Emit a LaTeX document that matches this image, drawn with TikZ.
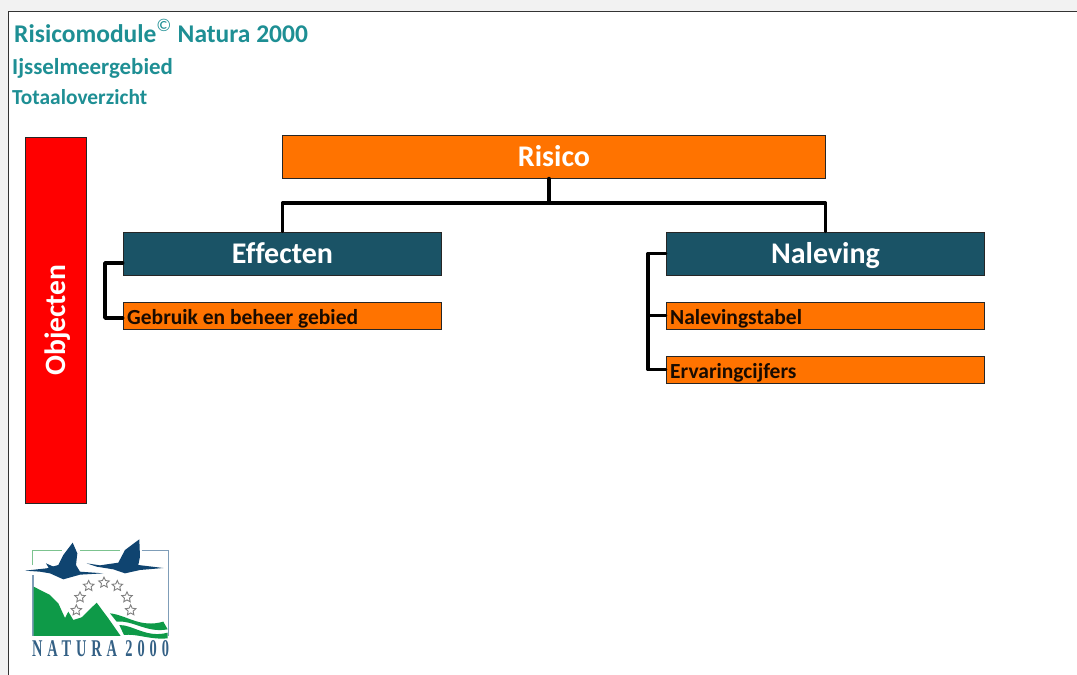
\documentclass[tikz,border=0pt]{standalone}
\usepackage{fontspec}
\setmainfont{Carlito}
\newfontfamily\logofont{Liberation Serif}
\usetikzlibrary{shapes.geometric}
\definecolor{teal1}{HTML}{1E8F94}
\definecolor{orangebox}{HTML}{FF7300}
\definecolor{bluebox}{HTML}{1A5366}
\definecolor{navy}{HTML}{0F4470}
\definecolor{leaf}{HTML}{0E9A48}
\definecolor{framegreen}{HTML}{7CC38F}
\definecolor{frameblue}{HTML}{7F9DB8}
\tikzset{
  x=1pt,y=-1pt,
  boxbase/.style={draw=black!85,line width=1pt,inner sep=0pt,minimum width=318.5pt,font=\bfseries},
  headbox/.style={boxbase,fill=bluebox,text=white,minimum height=43pt,text height=22pt,text depth=3pt,font=\bfseries\fontsize{30}{32}\selectfont},
  subbox/.style={boxbase,fill=orangebox,minimum height=27pt},
  sublabel/.style={anchor=base west,inner sep=0pt,font=\bfseries\fontsize{21.5}{24}\selectfont,text=black!90!orangebox},
  titletext/.style={anchor=base west,inner sep=0pt,text=teal1},
  link/.style={line width=3.4pt,line join=round,line cap=round,draw=black},
  staricon/.style={star,star points=5,star point ratio=2.1,draw=black!50,fill=white,line width=0.9pt,minimum size=11pt,inner sep=0pt},
}
\begin{document}
\begin{tikzpicture}
\useasboundingbox (0,0) rectangle (1077,675);
\fill[black!5] (0,0) rectangle (1077,675);
\fill[white] (8,11) rectangle (1077,675);
\draw[black!80,line width=1pt] (8,675) -- (8,11) -- (1077,11);

\node[titletext,font=\bfseries\fontsize{25.5}{27}\selectfont] (title) at (14,42.5) {Risicomodule\raisebox{11pt}{\fontsize{18}{20}\selectfont\mdseries ©}\hspace{0.5pt} Natura 2000};
\node[titletext,font=\bfseries\fontsize{22.9}{25}\selectfont] (area) at (12,74) {Ijsselmeergebied};
\node[titletext,font=\bfseries\fontsize{21.4}{24}\selectfont] (overview) at (12,104) {Totaaloverzicht};

\node[draw=black!85,line width=1pt,fill=red,text=white,minimum width=61pt,minimum height=366pt,inner sep=0pt] (objects) at (55.7,320) {};
\node[rotate=90,text=white,font=\bfseries\fontsize{29.5}{31}\selectfont] (objlabel) at (57.5,320) {Objecten};

\node[boxbase,fill=orangebox,text=white,minimum width=543.5pt,minimum height=43pt,text height=22pt,text depth=3pt,font=\bfseries\fontsize{30}{32}\selectfont] (risico) at (554,156.5) {Risico};
\node[headbox] (effecten) at (282.5,253.5) {Ef\kern0ptfecten};
\node[headbox] (naleving) at (825.5,253.5) {Naleving};
\node[subbox] (gebruik) at (282.5,315.5) {};
\node[subbox] (tabel) at (825.5,315.5) {};
\node[subbox] (cijfers) at (825.5,369.5) {};
\node[sublabel] (gebruiklabel) at (127,324) {Gebruik en beheer gebied};
\node[sublabel] (tabellabel) at (670,324) {Nalevingstabel};
\node[sublabel] (cijferslabel) at (670,378) {Ervaringcijfers};

\coordinate (bus) at (549,203);
\coordinate (efftrunk) at (105,263);
\coordinate (naltrunk) at (648,253.5);
\draw[link] (risico.south -| bus) -- (bus);
\draw[link] (effecten.north) |- (bus) -| (naleving.north);
\draw[link] (effecten.west |- efftrunk) -- (efftrunk) |- ([yshift=-2.5pt]gebruik.west);
\draw[link] (naleving.west) -- (naltrunk) |- (cijfers.west);
\draw[link] (naltrunk |- tabel.west) -- (tabel.west);

% logo, in zoom coordinates
\begin{scope}[x=0.3333pt,y=-0.3333pt,shift={(0pt,-530pt)}]
\draw[framegreen,line width=1.1pt] (97,105) -- (97,62) -- (185,62);
\draw[framegreen,line width=1.1pt] (240,62) -- (360,62);
\draw[frameblue,line width=1.1pt] (425,62) -- (505,62) -- (505,318);
\draw[frameblue,line width=1.1pt] (99,135) -- (99,318);
\fill[leaf] (101,170) -- (150,195) -- (175,220) -- (195,264) -- (205,245) -- (220,270) -- (245,262) -- (290,218) -- (325,265) -- (362,318) -- (101,318) -- cycle;
\fill[navy] (75,122) -- (140,115) -- (175,105) -- (190,75) -- (218,38) -- (232,70) -- (228,105) -- (240,125) -- (310,130) -- (240,134) -- (190,148) -- (150,130) -- (120,125) -- cycle;
\fill[navy] (138,100) -- (165,112) -- (150,120) -- cycle;
\fill[navy] (260,100) -- (300,106) -- (355,98) -- (375,60) -- (418,28) -- (420,80) -- (415,105) -- (490,114) -- (420,120) -- (375,130) -- (340,118) -- (290,110) -- cycle;
\fill[leaf] (330,250) .. controls (380,255) and (420,295) .. (490,275) -- (503,298) .. controls (440,310) and (400,270) .. (350,275) -- cycle;
\fill[leaf] (358,285) .. controls (400,285) and (440,325) .. (503,308) -- (503,325) .. controls (450,330) and (410,310) .. (372,315) -- cycle;
\foreach \n/\px/\py in {a/229/241,b/240/202,c/266/168,d/312/158,e/352/168,f/381/202,g/392/241}
  \node[staricon] (star\n) at (\px,\py) {};
\end{scope}
\node[inner sep=0pt,text=navy!85,xscale=0.6,font=\logofont\bfseries\fontsize{24}{26}\selectfont\addfontfeature{LetterSpace=34}] (logotext) at (100.5,649) {NATURA 2000};
\end{tikzpicture}
\end{document}
